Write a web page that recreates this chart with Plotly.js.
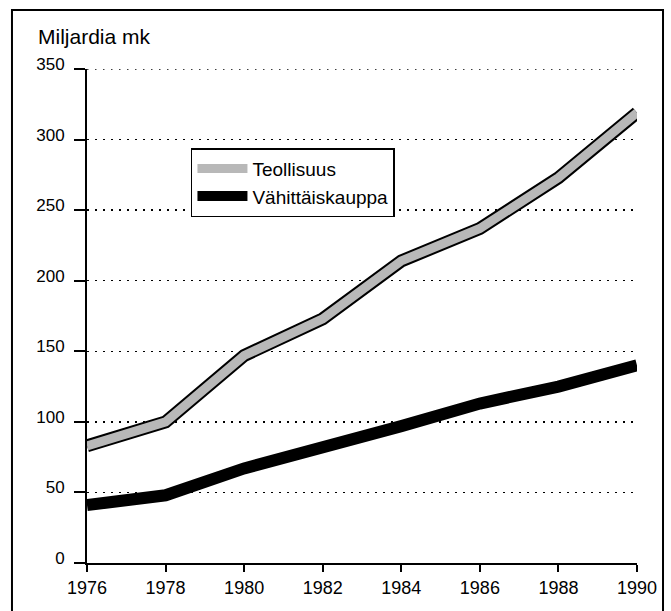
<!DOCTYPE html>
<html>
<head>
<meta charset="utf-8">
<script src="https://cdn.plot.ly/plotly-3.0.1.min.js"></script>
<style>html,body{margin:0;padding:0;background:#fff;}#chart{width:671px;height:611px;}</style>
</head>
<body>
<div id="chart"></div>
<script>
var years = [1976, 1978, 1980, 1982, 1984, 1986, 1988, 1990];
var teollisuus = [83, 100, 147, 173, 214, 237, 273, 319];
var vahittaiskauppa = [41, 48, 67, 81, 97, 113, 125, 140];
var xTicks = [1976, 1978, 1980, 1982, 1984, 1986, 1988, 1990];
var yTicks = [0, 50, 100, 150, 200, 250, 300, 350];
var yUnit = 'Miljardia mk';

var font = 'Liberation Sans, Arial, Helvetica, sans-serif';

var traces = [
  {x: years, y: teollisuus, mode: 'lines', line: {color: '#000', width: 13},
   showlegend: false, legendgroup: 't', hoverinfo: 'skip'},
  {x: years, y: teollisuus, mode: 'lines', name: 'Teollisuus',
   line: {color: '#b8b8b8', width: 9}, legendgroup: 't'},
  {x: years, y: vahittaiskauppa, mode: 'lines', name: 'Vähittäiskauppa',
   line: {color: '#000', width: 12}}
];

var grid = '1.5px,6.5px';

var layout = {
  width: 671, height: 611,
  margin: {l: 87, r: 34, t: 69, b: 48},
  paper_bgcolor: '#fff', plot_bgcolor: '#fff',
  font: {family: font, color: '#000'},
  showlegend: true,
  legend: {x: 0.189, y: 0.84, xanchor: 'left', yanchor: 'top',
    bgcolor: '#fff', bordercolor: '#000', borderwidth: 1.5,
    font: {size: 19, family: font}, itemwidth: 50, tracegroupgap: 0},
  xaxis: {range: [1976, 1990], tickvals: xTicks, ticktext: xTicks.map(String),
    showgrid: false, zeroline: false, showline: true, linecolor: '#000', linewidth: 2,
    ticks: 'outside', ticklen: 7, tickwidth: 2, tickcolor: '#000',
    tickfont: {size: 18, family: font}},
  yaxis: {range: [0, 350], tickvals: yTicks, ticktext: yTicks.map(String),
    showgrid: true, gridcolor: '#000', gridwidth: 1.5, griddash: grid,
    zeroline: false, showline: true, linecolor: '#000', linewidth: 2,
    ticks: 'outside', ticklen: 11, tickwidth: 2, tickcolor: '#000',
    ticklabelstandoff: 6, ticklabelshift: -5,
    tickfont: {size: 17, family: font}},
  annotations: [
    {xref: 'paper', yref: 'paper', x: -0.0927, y: 1.0648, xanchor: 'left', yanchor: 'middle',
     text: yUnit, showarrow: false, font: {size: 21, family: font, color: '#000'}}
  ],
  shapes: [
    {type: 'line', xref: 'paper', yref: 'y', x0: 0, x1: 1, y0: yTicks[yTicks.length - 1], y1: yTicks[yTicks.length - 1],
     line: {color: '#000', width: 1.5, dash: grid}, layer: 'below'},
    {type: 'rect', xref: 'paper', yref: 'paper', x0: -0.1364, x1: 1.0473, y0: -0.11, y1: 1.1194,
     line: {color: '#000', width: 2}, fillcolor: 'rgba(0,0,0,0)', layer: 'below'}
  ]
};

Plotly.newPlot('chart', traces, layout, {displayModeBar: false, staticPlot: true});
</script>
</body>
</html>
